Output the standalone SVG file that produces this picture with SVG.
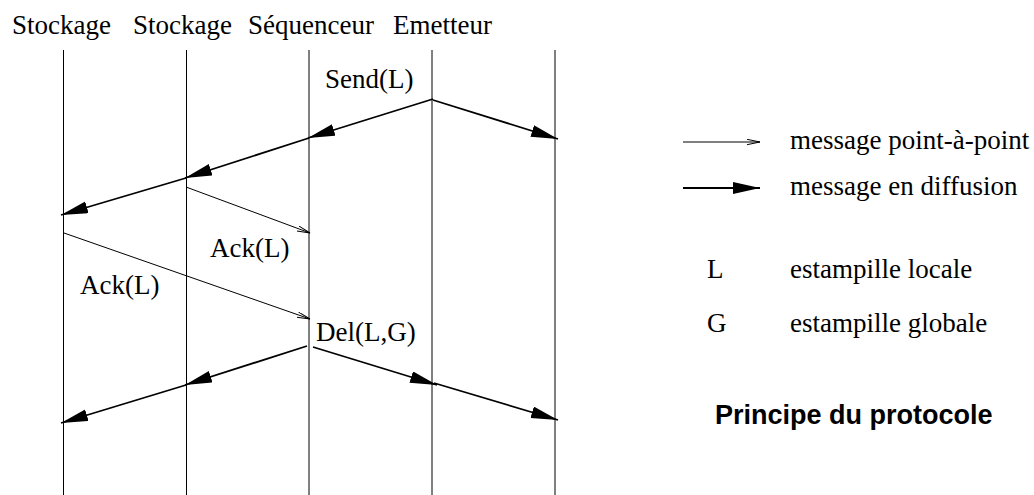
<svg xmlns="http://www.w3.org/2000/svg" width="1034" height="495" viewBox="0 0 1034 495">
  <style>
    .lbl { font-family: "Liberation Serif", "Times New Roman", serif; font-size: 27px; fill: #000; }
    .title { font-family: "Liberation Sans", Arial, sans-serif; font-size: 27px; font-weight: bold; fill: #000; }
    .life { stroke: #000; stroke-width: 1; fill: none; }
    .bcast { stroke: #000; stroke-width: 1.8; fill: none; marker-end: url(#headFilled); }
    .p2p { stroke: #000; stroke-width: 1; fill: none; marker-end: url(#headOpen); }
  </style>
  <defs>
    <marker id="headFilled" markerUnits="userSpaceOnUse" markerWidth="28" markerHeight="14" refX="27" refY="6" orient="auto">
      <path d="M0,0 L27,6 L0,12 z" fill="#000"/>
    </marker>
    <marker id="headOpen" markerUnits="userSpaceOnUse" markerWidth="14" markerHeight="8" refX="13" refY="3" orient="auto">
      <path d="M0,0.3 L13,3 L0,5.7" fill="none" stroke="#000" stroke-width="1"/>
    </marker>
  </defs>

  <rect width="1034" height="495" fill="#fff"/>

  <!-- process names -->
  <g id="headers">
    <text class="lbl" x="12" y="34">Stockage</text>
    <text class="lbl" x="133" y="34">Stockage</text>
    <text class="lbl" x="248" y="34">Séquenceur</text>
    <text class="lbl" x="393" y="34">Emetteur</text>
  </g>

  <!-- time lines -->
  <g id="lifelines">
    <line class="life" x1="63.5" y1="50" x2="63.5" y2="495"/>
    <line class="life" x1="186.5" y1="50" x2="186.5" y2="495"/>
    <line class="life" x1="309" y1="50" x2="309" y2="495"/>
    <line class="life" x1="432" y1="50" x2="432" y2="495"/>
    <line class="life" x1="555" y1="50" x2="555" y2="495"/>
  </g>

  <!-- messages -->
  <g id="connectors">
    <line class="bcast" x1="433" y1="99" x2="308" y2="138"/>
    <line class="bcast" x1="309" y1="138" x2="185" y2="178"/>
    <line class="bcast" x1="186" y1="178" x2="61" y2="215"/>
    <line class="bcast" x1="433" y1="100" x2="558" y2="139"/>

    <line class="p2p" x1="186" y1="187" x2="310" y2="233"/>
    <line class="p2p" x1="64" y1="233" x2="310" y2="319"/>

    <line class="bcast" x1="307" y1="346" x2="185" y2="385"/>
    <line class="bcast" x1="186" y1="385" x2="61" y2="423"/>
    <line class="bcast" x1="313" y1="347" x2="437" y2="385"/>
    <line class="bcast" x1="434" y1="383" x2="558" y2="420"/>
  </g>

  <g id="labels">
    <text class="lbl" x="325" y="88">Send(L)</text>
    <text class="lbl" x="210" y="257">Ack(L)</text>
    <text class="lbl" x="80" y="294">Ack(L)</text>
    <text class="lbl" x="316" y="341">Del(L,G)</text>
  </g>

  <!-- legend -->
  <g id="legend">
    <line class="p2p" x1="683" y1="142" x2="760" y2="142"/>
    <text class="lbl" x="790" y="149">message point-à-point</text>
    <line class="bcast" x1="683" y1="188" x2="760" y2="188"/>
    <text class="lbl" x="790" y="195">message en diffusion</text>
    <text class="lbl" x="707" y="278">L</text>
    <text class="lbl" x="790" y="278">estampille locale</text>
    <text class="lbl" x="707" y="332">G</text>
    <text class="lbl" x="790" y="332">estampille globale</text>
    <text class="title" x="715" y="424">Principe du protocole</text>
  </g>
</svg>
